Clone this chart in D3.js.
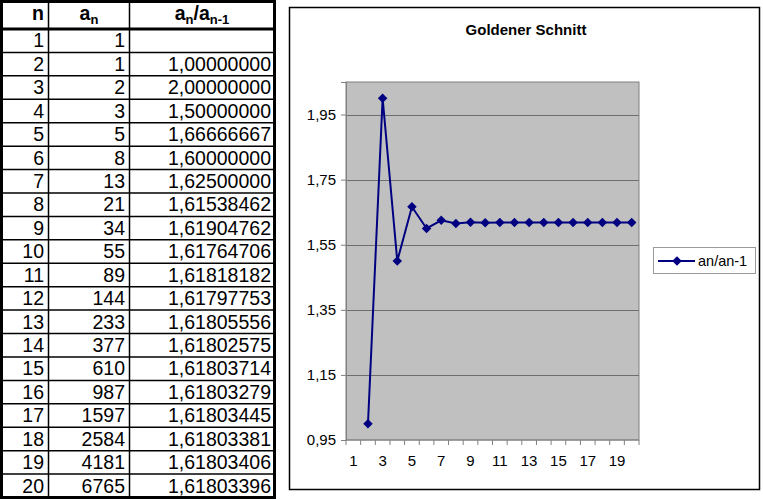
<!DOCTYPE html>
<html>
<head>
<meta charset="utf-8">
<script src="https://cdn.jsdelivr.net/npm/d3@7/dist/d3.min.js"></script>
<style>
  html, body { margin: 0; padding: 0; background: #fff; }
  svg { display: block; font-family: "Liberation Sans", Arial, sans-serif; }
</style>
</head>
<body>
<svg id="c" width="763" height="500"></svg>
<script>
// ---- data ----
const nValues = [1,2,3,4,5,6,7,8,9,10,11,12,13,14,15,16,17,18,19,20];
const anValues = [1,1,2,3,5,8,13,21,34,55,89,144,233,377,610,987,1597,2584,4181,6765];
const ratioValues = [null,1.00000000,2.00000000,1.50000000,1.66666667,1.60000000,1.62500000,1.61538462,1.61904762,1.61764706,1.61818182,1.61797753,1.61805556,1.61802575,1.61803714,1.61803279,1.61803445,1.61803381,1.61803406,1.61803396];
const yTicks = [0.95, 1.15, 1.35, 1.55, 1.75, 1.95];
const xTickLabels = [1,3,5,7,9,11,13,15,17,19];
const chartTitle = "Goldener Schnitt";
const seriesName = "an/an-1";

const rows = nValues.map((n, i) => ({n, an: anValues[i], r: ratioValues[i]}));
const fmt = v => v == null ? "" : v.toFixed(8).replace(".", ",");

const svg = d3.select("#c");

// ---- table ----
const tbl = svg.append("g");
const tLeft = 1.5, tRight = 274.5, tTop = 1.5, headBottom = 29, tBottom = 497.5;
const colX = [tLeft, 48.5, 129.5, tRight];
const rowY = d3.scaleBand().domain(nValues).range([headBottom, tBottom]);

tbl.selectAll("line.row").data(nValues.slice(1)).join("line")
  .attr("x1", tLeft).attr("x2", tRight)
  .attr("y1", d => rowY(d)).attr("y2", d => rowY(d))
  .attr("stroke", "#000").attr("stroke-width", 1.5);
tbl.selectAll("line.col").data(colX.slice(1, 3)).join("line")
  .attr("x1", d => d).attr("x2", d => d)
  .attr("y1", tTop).attr("y2", tBottom)
  .attr("stroke", "#000").attr("stroke-width", 1.5);
tbl.append("line").attr("x1", tLeft).attr("x2", tRight)
  .attr("y1", headBottom).attr("y2", headBottom)
  .attr("stroke", "#000").attr("stroke-width", 3);
tbl.append("rect").attr("x", tLeft).attr("y", tTop)
  .attr("width", tRight - tLeft).attr("height", tBottom - tTop)
  .attr("fill", "none").attr("stroke", "#000").attr("stroke-width", 3);

const fs = 19.5;
const hy = 20;
tbl.append("text").attr("x", 44).attr("y", hy).attr("text-anchor", "end")
  .attr("font-size", fs).attr("font-weight", "bold").text("n");
const h2 = tbl.append("text").attr("x", 89).attr("y", hy).attr("text-anchor", "middle")
  .attr("font-size", fs).attr("font-weight", "bold");
h2.append("tspan").text("a");
h2.append("tspan").attr("font-size", 13).attr("dy", 4).text("n");
const h3 = tbl.append("text").attr("x", 202).attr("y", hy).attr("text-anchor", "middle")
  .attr("font-size", fs).attr("font-weight", "bold");
h3.append("tspan").text("a");
h3.append("tspan").attr("font-size", 13).attr("dy", 4).text("n");
h3.append("tspan").attr("dy", -4).text("/a");
h3.append("tspan").attr("font-size", 13).attr("dy", 4).text("n-1");

const cellG = tbl.selectAll("g.r").data(rows).join("g")
  .attr("transform", d => `translate(0,${rowY(d.n) + rowY.bandwidth() - 5})`)
  .attr("font-size", fs).attr("text-anchor", "end");
cellG.append("text").attr("x", 44).text(d => d.n);
cellG.append("text").attr("x", 125).text(d => d.an);
cellG.append("text").attr("x", 271).text(d => fmt(d.r));

// ---- chart ----
const ch = svg.append("g");
const cfs = 15;
ch.append("rect").attr("x", 289.5).attr("y", 7.5).attr("width", 470).attr("height", 482)
  .attr("fill", "#fff").attr("stroke", "#000").attr("stroke-width", 1.5);

ch.append("text").attr("x", 526).attr("y", 35).attr("text-anchor", "middle")
  .attr("font-size", 15).attr("font-weight", "bold").text(chartTitle);

const pL = 346, pR = 639, pT = 82, pB = 440;
const x = d3.scaleBand().domain(nValues).range([pL, pR]);
const y = d3.scaleLinear().domain([0.95, 2.05]).range([pB, pT]);

ch.append("rect").attr("x", pL).attr("y", pT).attr("width", pR - pL).attr("height", pB - pT)
  .attr("fill", "#c0c0c0").attr("stroke", "#808080").attr("stroke-width", 1);

ch.selectAll("line.grid").data(yTicks.slice(1)).join("line")
  .attr("x1", pL).attr("x2", pR)
  .attr("y1", d => Math.round(y(d)) + 0.5).attr("y2", d => Math.round(y(d)) + 0.5)
  .attr("stroke", "#6e6e6e").attr("stroke-width", 1);

const yAxis = d3.axisLeft(y).tickValues(yTicks).tickSize(5).tickPadding(5)
  .tickFormat(d => d.toFixed(2).replace(".", ","));
const yg = ch.append("g").attr("transform", `translate(${pL},0)`).call(yAxis)
  .attr("font-size", cfs).attr("font-family", "'Liberation Sans', Arial, sans-serif");
yg.select(".domain").attr("stroke", "#808080");
yg.selectAll(".tick line").attr("stroke", "#808080");
yg.selectAll(".tick text").attr("font-size", cfs).attr("fill", "#000");

const xg = ch.append("g").attr("transform", `translate(0,${pB})`);
xg.append("line").attr("x1", pL).attr("x2", pR).attr("stroke", "#808080");
const bounds = nValues.map(d => x(d)).concat([x(20) + x.bandwidth()]);
xg.selectAll("line.t").data(bounds).join("line")
  .attr("x1", d => d).attr("x2", d => d).attr("y1", 0).attr("y2", 5)
  .attr("stroke", "#808080");
xg.selectAll("text").data(xTickLabels).join("text")
  .attr("x", d => x(d) + x.bandwidth() / 2).attr("y", 26)
  .attr("text-anchor", "middle").attr("font-size", cfs).text(d => d);

const pts = rows.filter(d => d.r != null);
const line = d3.line().x(d => x(d.n) + x.bandwidth() / 2).y(d => y(d.r));
ch.append("path").datum(pts).attr("d", line)
  .attr("fill", "none").attr("stroke", "#000080").attr("stroke-width", 2);

const diamond = d3.symbol().type(d3.symbolSquare).size(45);
ch.selectAll("path.m").data(pts).join("path")
  .attr("d", diamond)
  .attr("transform", d => `translate(${x(d.n) + x.bandwidth() / 2},${y(d.r)}) rotate(45)`)
  .attr("fill", "#000080");

const lg = ch.append("g");
lg.append("rect").attr("x", 653.5).attr("y", 247.5).attr("width", 102).attr("height", 26)
  .attr("fill", "#fff").attr("stroke", "#9a9a9a").attr("stroke-width", 1);
lg.append("line").attr("x1", 658).attr("x2", 695).attr("y1", 261).attr("y2", 261)
  .attr("stroke", "#000080").attr("stroke-width", 2);
lg.append("path").attr("d", diamond).attr("transform", "translate(677,261) rotate(45)")
  .attr("fill", "#000080");
lg.append("text").attr("x", 698).attr("y", 266).attr("font-size", 14.5).text(seriesName);
</script>
</body>
</html>
